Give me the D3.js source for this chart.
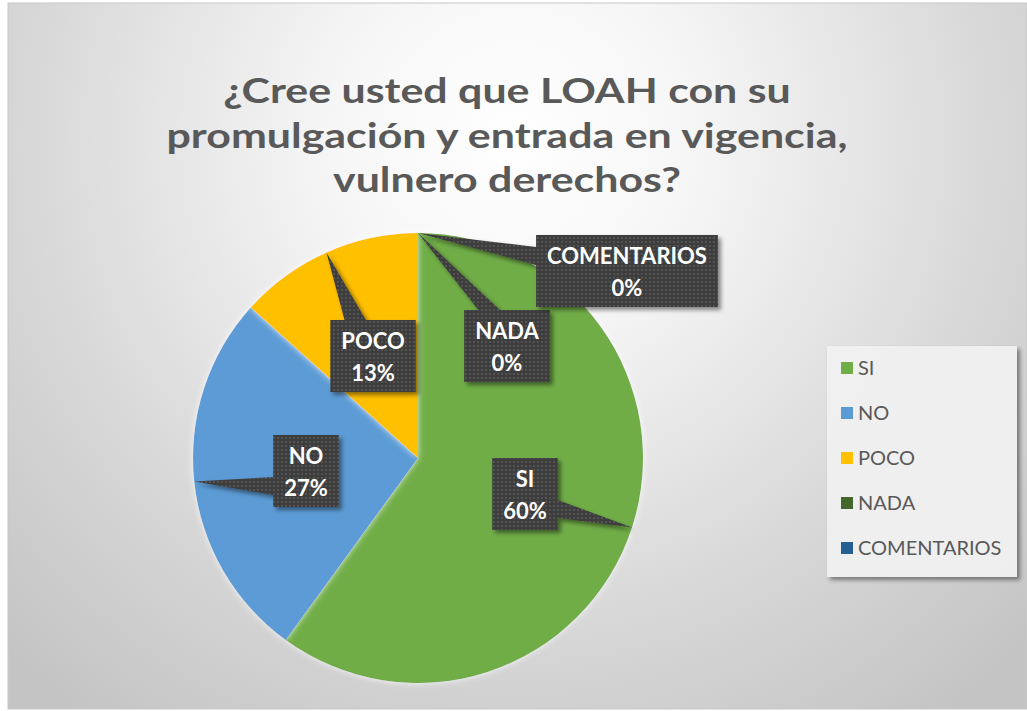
<!DOCTYPE html>
<html>
<head>
<meta charset="utf-8">
<script src="https://cdnjs.cloudflare.com/ajax/libs/d3/7.8.5/d3.min.js"></script>
<style>
  body { margin: 0; background: #fff; }
  svg { display: block; }
</style>
</head>
<body>
<div id="chart"></div>
<script>
// survey answers
var categories = ["SI", "NO", "POCO", "NADA", "COMENTARIOS"];
var answers = [9, 4, 2, 0, 0];
var sliceColors = ["#70ad47", "#5b9bd5", "#ffc000", "#43682b", "#255e91"];
var titleLines = ["¿Cree usted que LOAH con su", "promulgación y entrada en vigencia,", "vulnero derechos?"];

var width = 1027, height = 711;
var cx = 418, cy = 458, radius = 225;

// callout box centres, moved by hand like in the sheet
var labelSpots = {
  "SI": [525, 494],
  "NO": [306, 471],
  "POCO": [373, 356],
  "NADA": [507, 346],
  "COMENTARIOS": [627, 271]
};

var svg = d3.select("#chart")
  .append("svg")
    .attr("width", width)
    .attr("height", height);

var defs = svg.append("defs");

var bg = defs.append("radialGradient")
    .attr("id", "bgGrad")
    .attr("gradientUnits", "userSpaceOnUse")
    .attr("cx", 513).attr("cy", 140).attr("r", 720);
bg.append("stop").attr("offset", 0).attr("stop-color", "#ffffff");
bg.append("stop").attr("offset", 0.25).attr("stop-color", "#f6f6f6");
bg.append("stop").attr("offset", 0.7).attr("stop-color", "#d6d6d6");
bg.append("stop").attr("offset", 1).attr("stop-color", "#c4c4c4");

// dotted dark fill of the data callouts
var pat = defs.append("pattern")
    .attr("id", "dots")
    .attr("patternUnits", "userSpaceOnUse")
    .attr("width", 4).attr("height", 4);
pat.append("rect").attr("width", 4).attr("height", 4).attr("fill", "#3d3d3d");
pat.append("circle").attr("cx", 2).attr("cy", 2).attr("r", 0.9).attr("fill", "#5c5c5c");

var shadow = defs.append("filter")
    .attr("id", "shadow")
    .attr("x", "-20%").attr("y", "-20%").attr("width", "150%").attr("height", "150%");
shadow.append("feDropShadow")
    .attr("dx", 3).attr("dy", 3).attr("stdDeviation", 2.2)
    .attr("flood-color", "#000").attr("flood-opacity", 0.45);

var soft = defs.append("filter")
    .attr("id", "soft")
    .attr("x", "-10%").attr("y", "-10%").attr("width", "120%").attr("height", "120%");
soft.append("feDropShadow")
    .attr("dx", 0).attr("dy", 0).attr("stdDeviation", 3)
    .attr("flood-color", "#ffffff").attr("flood-opacity", 0.8);

// chart area
svg.append("rect")
    .attr("x", 8).attr("y", 3)
    .attr("width", width - 8).attr("height", height - 5)
    .attr("fill", "url(#bgGrad)")
    .attr("stroke", "#c8c8c8");

// title - calibri is narrow, so lato gets squeezed a bit
var title = svg.append("g")
    .attr("font-family", "Lato, 'Open Sans', sans-serif")
    .attr("font-weight", "bold")
    .attr("font-size", 35)
    .attr("fill", "#595959")
    .attr("text-anchor", "middle");

title.selectAll("text")
  .data(titleLines)
  .join("text")
    .attr("x", 507)
    .attr("y", (d, i) => 103 + i * 44.5)
    .text(d => d);
var tnodes = title.selectAll("text").nodes();
var k = 681 / tnodes[1].getComputedTextLength();
tnodes.forEach(function(n) {
  var w = n.getComputedTextLength();
  d3.select(n)
    .attr("textLength", w * k)
    .attr("lengthAdjust", "spacingAndGlyphs");
});

// pie
var total = d3.sum(answers);
var pct = d3.format(".0%");
var color = d3.scaleOrdinal().domain(categories).range(sliceColors);

var pie = d3.pie()
  .sort(null)
  .value(d => d.value);

var slices = pie(categories.map((c, i) => ({ name: c, value: answers[i] })));

var arc = d3.arc().innerRadius(0).outerRadius(radius);

var pieG = svg.append("g")
    .attr("transform", "translate(" + cx + "," + cy + ")");

pieG.selectAll("path")
  .data(slices.filter(d => d.value > 0))
  .join("path")
    .attr("d", arc)
    .attr("fill", d => color(d.data.name))
    .attr("filter", "url(#soft)");

// callouts (wedge rect, like excel)
var labelG = svg.append("g")
    .attr("font-family", "Lato, 'Open Sans', sans-serif")
    .attr("font-weight", "bold")
    .attr("font-size", 22);

slices.forEach(function(d) {
  var name = d.data.name;
  var spot = labelSpots[name];
  var g = labelG.append("g");
  var lines = [name, pct(d.value / total)];

  var t = g.append("g").attr("fill", "#fff").attr("text-anchor", "middle");
  t.selectAll("text").data(lines).join("text").text(l => l);
  var tw = d3.max(t.selectAll("text").nodes(), n => n.getComputedTextLength());

  var bw = tw + 22, bh = 72;
  var x0 = spot[0] - bw / 2, y0 = spot[1] - bh / 2;

  var a = (d.startAngle + d.endAngle) / 2;
  var tx = cx + radius * Math.sin(a), ty = cy - radius * Math.cos(a);
  var dx = tx - spot[0], dy = ty - spot[1];

  var wedge;
  if (Math.abs(dx) * bh > Math.abs(dy) * bw) {
    var sx = dx < 0 ? x0 : x0 + bw;
    var ya = y0 + bh * (dy > 0 ? 7 : 2) / 12, yb = y0 + bh * (dy > 0 ? 10 : 5) / 12;
    wedge = [[sx, ya], [tx, ty], [sx, yb]];
  } else {
    var sy = dy < 0 ? y0 : y0 + bh;
    var xa = x0 + bw * (dx > 0 ? 7 : 2) / 12, xb = x0 + bw * (dx > 0 ? 10 : 5) / 12;
    wedge = [[xa, sy], [tx, ty], [xb, sy]];
  }

  var p = d3.path();
  p.rect(x0, y0, bw, bh);
  p.moveTo(wedge[0][0], wedge[0][1]);
  p.lineTo(wedge[1][0], wedge[1][1]);
  p.lineTo(wedge[2][0], wedge[2][1]);
  p.closePath();

  g.insert("path", ":first-child")
      .attr("d", p.toString())
      .attr("fill", "url(#dots)")
      .attr("filter", "url(#shadow)");

  t.selectAll("text")
      .attr("x", spot[0])
      .attr("y", (l, i) => y0 + 29 + i * 32);
});

// legend
var legend = svg.append("g");
legend.append("rect")
    .attr("x", 827).attr("y", 346)
    .attr("width", 190).attr("height", 231)
    .attr("fill", "#f1f1f1")
    .attr("filter", "url(#shadow)")
    .attr("opacity", 0.95);

var legendY = d3.scalePoint()
    .domain(categories)
    .range([368, 548]);

var item = legend.selectAll("g.item")
  .data(categories)
  .join("g")
    .attr("class", "item")
    .attr("transform", d => "translate(841," + legendY(d) + ")");

item.append("rect")
    .attr("x", 0).attr("y", -6)
    .attr("width", 12).attr("height", 12)
    .attr("fill", d => color(d));

item.append("text")
    .attr("x", 17)
    .attr("dy", "0.36em")
    .attr("font-family", "Lato, 'Open Sans', sans-serif")
    .attr("font-size", 20)
    .attr("fill", "#595959")
    .text(d => d);
</script>
</body>
</html>
